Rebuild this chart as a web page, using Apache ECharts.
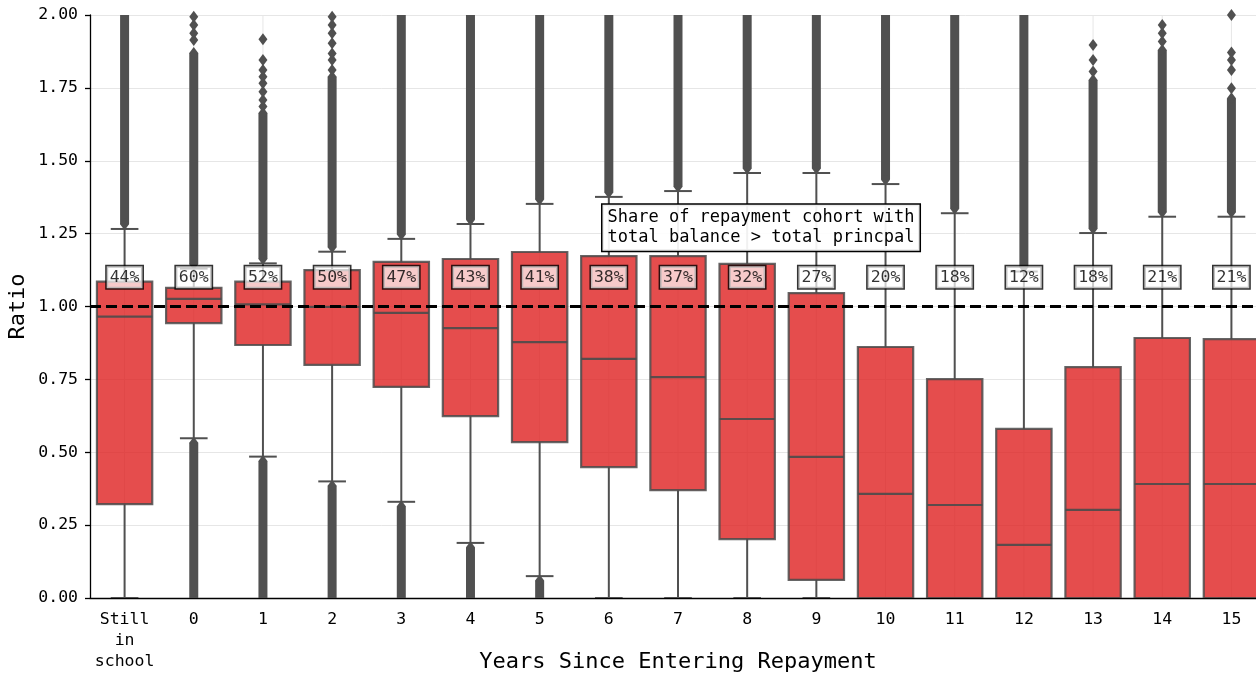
<!DOCTYPE html>
<html>
<head>
<meta charset="utf-8">
<script src="https://cdn.jsdelivr.net/npm/echarts@6/dist/echarts.min.js"></script>
<style>
  html, body { margin: 0; padding: 0; background: #fff; }
  #chart { width: 1256px; height: 675px; }
</style>
</head>
<body>
<div id="chart"></div>
<script>
// Cohorts by years since entering repayment
const categories = ['Still\nin\nschool', '0', '1', '2', '3', '4', '5', '6', '7', '8', '9', '10', '11', '12', '13', '14', '15'];

// Box statistics of balance / principal ratio per cohort
const whiskerLow  = [0.000, 0.548, 0.485, 0.400, 0.330, 0.189, 0.075, 0.000, 0.000, 0.000, 0.000, 0.000, 0.000, 0.000, 0.000, 0.000, 0.000];
const q1          = [0.322, 0.943, 0.868, 0.800, 0.724, 0.624, 0.535, 0.449, 0.370, 0.202, 0.062, 0.000, 0.000, 0.000, 0.000, 0.000, 0.000];
const medians     = [0.965, 1.026, 1.007, 0.999, 0.978, 0.926, 0.878, 0.820, 0.758, 0.614, 0.484, 0.357, 0.319, 0.182, 0.302, 0.391, 0.391];
const q3          = [1.085, 1.064, 1.085, 1.125, 1.153, 1.163, 1.187, 1.173, 1.173, 1.146, 1.046, 0.861, 0.751, 0.580, 0.792, 0.892, 0.888];
const whiskerHigh = [1.266, 1.130, 1.148, 1.188, 1.232, 1.283, 1.352, 1.376, 1.396, 1.458, 1.458, 1.420, 1.320, 1.120, 1.252, 1.308, 1.308];

// Share of each cohort with total balance > total principal (%)
const shareAbove = [44, 60, 52, 50, 47, 43, 41, 38, 37, 32, 27, 20, 18, 12, 18, 21, 21];

// Continuous runs of outliers: [category index, from, to]
const outlierRuns = [
  [0, 1.282, 2.05], [1, 1.145, 1.870], [2, 1.163, 1.664], [3, 1.203, 1.788],
  [4, 1.247, 2.05], [5, 1.298, 2.05], [6, 1.367, 2.05], [7, 1.391, 2.05],
  [8, 1.411, 2.05], [9, 1.473, 2.05], [10, 1.473, 2.05], [11, 1.435, 2.05],
  [12, 1.335, 2.05], [13, 1.135, 2.05], [14, 1.267, 1.777], [15, 1.323, 1.880],
  [16, 1.323, 1.714],
  [1, -0.05, 0.533], [2, -0.05, 0.470], [3, -0.05, 0.385], [4, -0.05, 0.315],
  [5, -0.05, 0.174], [6, -0.05, 0.060]
];

// Isolated outliers: [category index, value]
const outlierPoints = [
  [1, 1.914], [1, 1.937], [1, 1.966], [1, 1.994],
  [2, 1.686], [2, 1.708], [2, 1.737], [2, 1.766], [2, 1.788], [2, 1.811], [2, 1.846], [2, 1.917],
  [3, 1.811], [3, 1.846], [3, 1.868], [3, 1.903], [3, 1.937], [3, 1.966], [3, 1.994],
  [14, 1.806], [14, 1.846], [14, 1.897],
  [15, 1.909], [15, 1.937], [15, 1.966],
  [16, 1.749], [16, 1.811], [16, 1.846], [16, 1.871], [16, 2.000]
];

const labelLevel = 1.1;
const breakEven = 1.0;
const noteText = 'Share of repayment cohort with\ntotal balance > total princpal';
const notePos = [9.2, 1.27];

const FONT = '"DejaVu Sans Mono", monospace';
const LINE = '#505050';

const boxData = categories.map((c, i) => [i, whiskerLow[i], q1[i], medians[i], q3[i], whiskerHigh[i]]);
const labelData = categories.map((c, i) => [i, labelLevel, shareAbove[i]]);
const gridData = categories.map((c, i) => [i]);

const chart = echarts.init(document.getElementById('chart'), null, { renderer: 'canvas' });

function renderBox(params, api) {
  const i = api.value(0);
  const step = api.size([1, 0])[0];
  const bw = step * 0.8;
  const cw = bw * 0.5;
  const pWl = api.coord([i, api.value(1)]);
  const pQ1 = api.coord([i, api.value(2)]);
  const pMd = api.coord([i, api.value(3)]);
  const pQ3 = api.coord([i, api.value(4)]);
  const pWh = api.coord([i, api.value(5)]);
  const x = pQ1[0];
  const lineStyle = { stroke: LINE, lineWidth: 2, fill: null };
  return {
    type: 'group',
    children: [
      { type: 'line', shape: { x1: x, y1: pWl[1], x2: x, y2: pQ1[1] }, style: lineStyle },
      { type: 'line', shape: { x1: x, y1: pQ3[1], x2: x, y2: pWh[1] }, style: lineStyle },
      { type: 'line', shape: { x1: x - cw / 2, y1: pWl[1], x2: x + cw / 2, y2: pWl[1] }, style: lineStyle },
      { type: 'line', shape: { x1: x - cw / 2, y1: pWh[1], x2: x + cw / 2, y2: pWh[1] }, style: lineStyle },
      { type: 'rect', shape: { x: x - bw / 2, y: pQ3[1], width: bw, height: pQ1[1] - pQ3[1] },
        style: { fill: 'rgba(223,32,32,0.8)', stroke: 'rgba(75,75,75,0.85)', lineWidth: 2.2 } },
      { type: 'line', shape: { x1: x - bw / 2, y1: pMd[1], x2: x + bw / 2, y2: pMd[1] },
        style: { stroke: 'rgba(75,75,75,0.9)', lineWidth: 2.2 } }
    ]
  };
}

function renderRun(params, api) {
  const i = api.value(0);
  const a = api.coord([i, api.value(1)]);
  const b = api.coord([i, api.value(2)]);
  const x = a[0];
  const w = 9, h = 12;
  const top = Math.min(a[1], b[1]), bot = Math.max(a[1], b[1]);
  return {
    type: 'group',
    children: [
      { type: 'rect', shape: { x: x - w / 2, y: top, width: w, height: bot - top }, style: { fill: LINE } },
      { type: 'polygon', shape: { points: [[x, top - h / 2], [x + w / 2, top], [x, top + h / 2], [x - w / 2, top]] }, style: { fill: LINE } },
      { type: 'polygon', shape: { points: [[x, bot - h / 2], [x + w / 2, bot], [x, bot + h / 2], [x - w / 2, bot]] }, style: { fill: LINE } }
    ]
  };
}

function renderVGrid(params, api) {
  const i = api.value(0);
  const a = api.coord([i, 0]);
  const b = api.coord([i, 2]);
  return { type: 'line', shape: { x1: a[0], y1: a[1], x2: b[0], y2: b[1] }, style: { stroke: '#e6e6e6', lineWidth: 1 } };
}

function renderNote(params, api) {
  const idx = Math.floor(notePos[0]);
  const frac = notePos[0] - idx;
  const a = api.coord([idx, notePos[1]]);
  const b = api.coord([idx + 1, notePos[1]]);
  const x = a[0] + (b[0] - a[0]) * frac;
  return {
    type: 'text',
    style: {
      text: noteText, x: x, y: a[1], align: 'center', verticalAlign: 'middle',
      font: '17px ' + FONT, fill: '#000', lineHeight: 20,
      backgroundColor: 'rgba(255,255,255,0.92)', borderColor: '#000', borderWidth: 1.5,
      padding: [3, 5, 3, 5]
    }
  };
}

const option = {
  animation: false,
  backgroundColor: '#fff',
  grid: { left: 90, top: 15, bottom: 77, right: -10, containLabel: false, outerBoundsMode: 'none' },
  xAxis: {
    type: 'category',
    data: categories,
    name: 'Years Since Entering Repayment',
    nameLocation: 'middle',
    nameGap: 53,
    nameMoveOverlap: false,
    nameTextStyle: { fontFamily: FONT, fontSize: 22, color: '#000' },
    axisLine: { lineStyle: { color: '#000', width: 1.3 } },
    axisTick: { alignWithLabel: true, length: 5, lineStyle: { color: '#000', width: 1.3 } },
    axisLabel: { interval: 0, fontFamily: FONT, fontSize: 16.5, color: '#000', lineHeight: 21, margin: 11 },
    splitLine: { show: false }
  },
  yAxis: {
    type: 'value',
    min: 0, max: 2, interval: 0.25,
    name: 'Ratio',
    nameLocation: 'middle',
    nameRotate: 90,
    nameGap: 61,
    nameMoveOverlap: false,
    nameTextStyle: { fontFamily: FONT, fontSize: 22, color: '#000' },
    axisLine: { show: true, lineStyle: { color: '#000', width: 1.3 } },
    axisTick: { show: true, length: 5, lineStyle: { color: '#000', width: 1.3 } },
    axisLabel: { fontFamily: FONT, fontSize: 16.5, color: '#000', margin: 12, formatter: v => v.toFixed(2) },
    splitLine: { show: true, lineStyle: { color: '#e6e6e6', width: 1 } }
  },
  series: [
    { type: 'custom', name: 'vgrid', data: gridData, renderItem: renderVGrid, z: 0, silent: true, clip: true },
    { type: 'custom', name: 'outlierRuns', data: outlierRuns, renderItem: renderRun, z: 2, clip: true,
      encode: { x: 0, y: [1, 2] } },
    { type: 'scatter', name: 'outliers', data: outlierPoints, symbol: 'diamond', symbolSize: [9, 12],
      itemStyle: { color: LINE, opacity: 1 }, z: 2, clip: true },
    { type: 'custom', name: 'boxes', data: boxData, renderItem: renderBox, z: 3, clip: true,
      encode: { x: 0, y: [1, 2, 3, 4, 5] },
      markLine: {
        silent: true, symbol: 'none', z: 5,
        label: { show: false },
        lineStyle: { color: '#000', width: 3, type: [11, 5] },
        data: [{ yAxis: breakEven }]
      }
    },
    { type: 'scatter', name: 'share', data: labelData, symbolSize: 0, z: 6,
      label: {
        show: true, position: 'inside', formatter: p => p.value[2] + '%',
        fontFamily: FONT, fontSize: 16.5, color: '#000',
        backgroundColor: 'rgba(255,255,255,0.88)', borderColor: '#000', borderWidth: 1.5,
        padding: [3, 3, 2, 3]
      }
    },
    { type: 'custom', name: 'note', data: [[0]], renderItem: renderNote, z: 7, clip: false }
  ]
};

chart.setOption(option);
</script>
</body>
</html>
